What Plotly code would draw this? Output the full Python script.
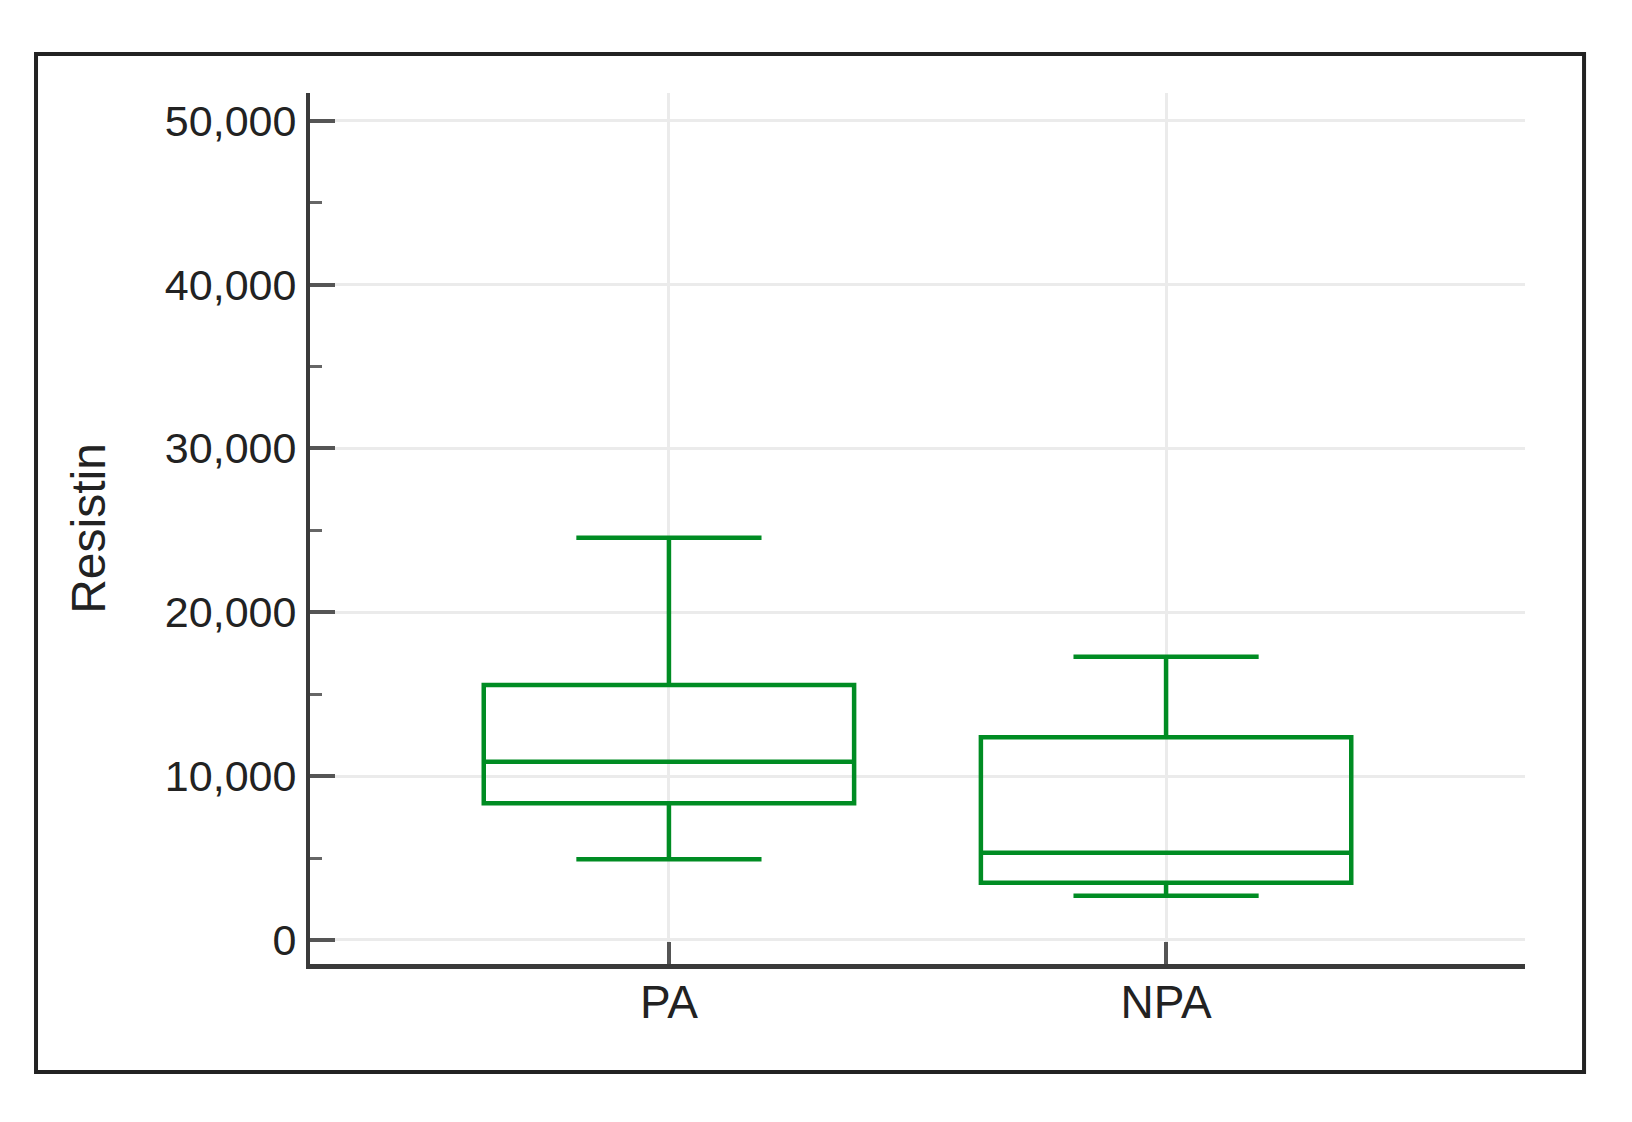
import plotly.graph_objects as go

# ---- data ----
groups = ["PA", "NPA"]
lower_whisker = [4925, 2704]
q1_values = [8342, 3497]
median_values = [10881, 5328]
q3_values = [15562, 12370]
upper_whisker = [24551, 17289]
y_tick_values = [0, 10000, 20000, 30000, 40000, 50000]
y_axis_title = "Resistin"

GREEN = "#008c23"
FONT = "Liberation Sans, Arial, sans-serif"

fig = go.Figure()
fig.add_trace(go.Box(
    x=groups,
    q1=q1_values,
    median=median_values,
    q3=q3_values,
    lowerfence=lower_whisker,
    upperfence=upper_whisker,
    width=0.745,
    whiskerwidth=0.5,
    fillcolor="rgba(255,255,255,0)",
    line=dict(color=GREEN, width=4.5),
    boxpoints=False,
    showlegend=False,
))

fig.update_layout(
    width=1632,
    height=1122,
    margin=dict(l=302, r=115, t=85, b=166, autoexpand=False),
    paper_bgcolor="white",
    plot_bgcolor="white",
    font=dict(family=FONT, color="#222222"),
    showlegend=False,
)

fig.update_xaxes(
    type="category",
    range=[-0.722, 1.722],
    showline=True, linecolor="#3a3a3a", linewidth=4.5,
    ticks="inside", ticklen=22, tickwidth=3.5, tickcolor="#555555",
    showgrid=True, gridcolor="#ebebeb", gridwidth=3,
    tickfont=dict(size=46, color="#222222"),
    ticklabelstandoff=-6,
    zeroline=False,
)

fig.update_yaxes(
    range=[-1465, 51690],
    tickvals=y_tick_values,
    tickformat=",",
    showline=True, linecolor="#3a3a3a", linewidth=4,
    ticks="inside", ticklen=25, tickwidth=4, tickcolor="#555555",
    minor=dict(dtick=5000, tick0=0, ticks="inside", ticklen=12, tickwidth=3,
               tickcolor="#666666", showgrid=False),
    showgrid=True, gridcolor="#ebebeb", gridwidth=3,
    tickfont=dict(size=43, color="#222222"),
    ticklabelstandoff=1,
    zeroline=False,
    title=dict(text=y_axis_title, font=dict(size=48, color="#222222"), standoff=45),
    automargin=False,
)

# outer frame around the figure
fig.add_shape(
    type="rect", xref="paper", yref="paper",
    x0=-0.2255, x1=1.0486, y0=-0.124, y1=1.0448,
    line=dict(color="#222222", width=4),
    fillcolor="rgba(0,0,0,0)",
    layer="below",
)

fig.write_html("out.html")
